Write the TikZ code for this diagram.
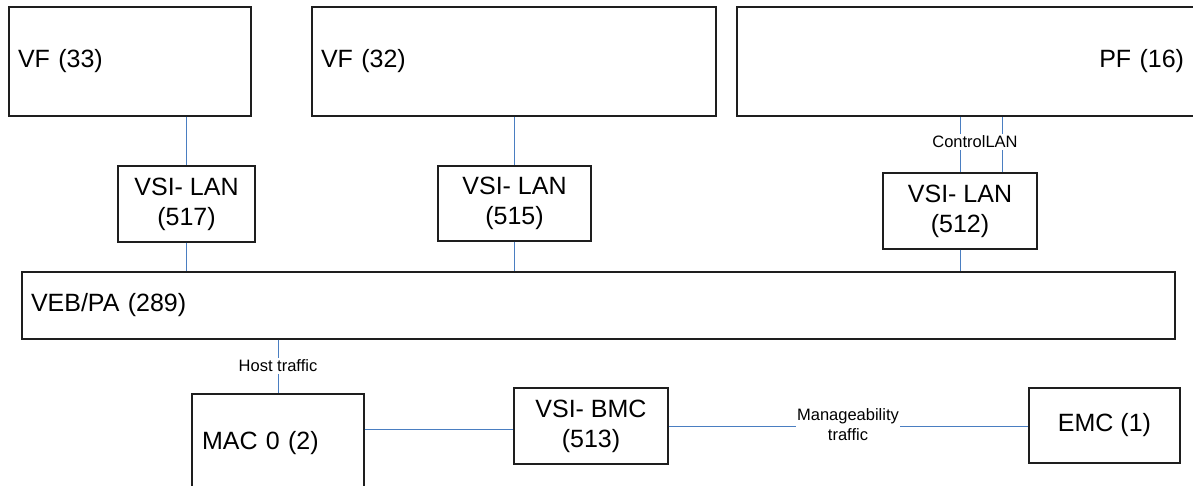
\documentclass[tikz,border=0pt]{standalone}
\usepackage{fontspec}
\setmainfont{Liberation Sans}
\usetikzlibrary{calc}
\definecolor{linkc}{RGB}{74,126,193}
\definecolor{boxc}{RGB}{30,30,30}
\newcommand{\boxfont}{\fontsize{25}{30}\selectfont}
\newcommand{\lblfont}{\fontsize{16.5}{20}\selectfont}
\begin{document}
\begin{tikzpicture}[x=1pt,y=-1pt,
  bigbox/.style={draw=boxc, line width=1.3pt, inner ysep=0pt, font=\boxfont},
  smallbox/.style={draw=boxc, line width=1.3pt, inner sep=0pt, align=center, font=\boxfont},
  link/.style={draw=linkc, line width=1pt},
  lbl/.style={fill=white, inner xsep=1pt, inner ysep=2pt, align=center, font=\lblfont}]
\useasboundingbox (0,0) rectangle (1193,485);
% top row
\node[bigbox, inner xsep=9pt, text width=224pt, align=left, minimum height=109pt] (vf33) at (130,61.5) {VF (33)};
\node[bigbox, inner xsep=9pt, text width=386pt, align=left, minimum height=109pt] (vf32) at (514,61.5) {VF (32)};
\node[bigbox, inner xsep=11pt, text width=436pt, align=right, minimum height=109pt] (pf) at (966,61.5) {PF (16)};
% VSI LAN boxes
\node[smallbox, minimum width=137pt, minimum height=76pt] (lan517) at (186.5,204) {VSI- LAN\\(517)};
\node[smallbox, minimum width=153pt, minimum height=75pt] (lan515) at (514.5,203.5) {VSI- LAN\\(515)};
\node[smallbox, minimum width=154pt, minimum height=76pt] (lan512) at (960,211) {VSI- LAN\\(512)};
% VEB
\node[bigbox, inner xsep=9pt, text width=1135pt, align=left, minimum height=67pt] (veb) at (598.5,305.5) {VEB/PA (289)};
% bottom row
\node[bigbox, inner xsep=10pt, text width=152pt, align=left, minimum height=98pt] (mac) at (278,443) {MAC 0 (2)};
\node[smallbox, minimum width=154pt, minimum height=76pt] (bmc) at (591,426) {VSI- BMC\\(513)};
\node[smallbox, minimum width=151pt, minimum height=75pt] (emc) at (1104.5,425.5) {EMC (1)};
% connectors
\draw[link] (vf33.south -| lan517.north) -- (lan517.north);
\draw[link] (lan517.south) -- (lan517.south |- veb.north);
\draw[link] (vf32.south -| lan515.north) -- (lan515.north);
\draw[link] (lan515.south) -- (lan515.south |- veb.north);
\draw[link] (pf.south -| lan512.north) -- (lan512.north);
\draw[link] ([xshift=42pt]lan512.north) -- ([xshift=42pt]lan512.north |- pf.south);
\draw[link] (lan512.south) -- (lan512.south |- veb.north);
\draw[link] (veb.south -| mac.north) -- (mac.north);
\draw[link] ([yshift=-3pt]bmc.west -| mac.east) -- ([yshift=-3pt]bmc.west);
\draw[link] (bmc.east) -- (bmc.east -| emc.west);
% labels
\node[lbl] (ctl) at (975,142) {ControlLAN};
\node[lbl] (host) at (278,366) {Host traffic};
\node[lbl] (mng) at (848,425) {Manageability\\traffic};
\end{tikzpicture}
\end{document}
